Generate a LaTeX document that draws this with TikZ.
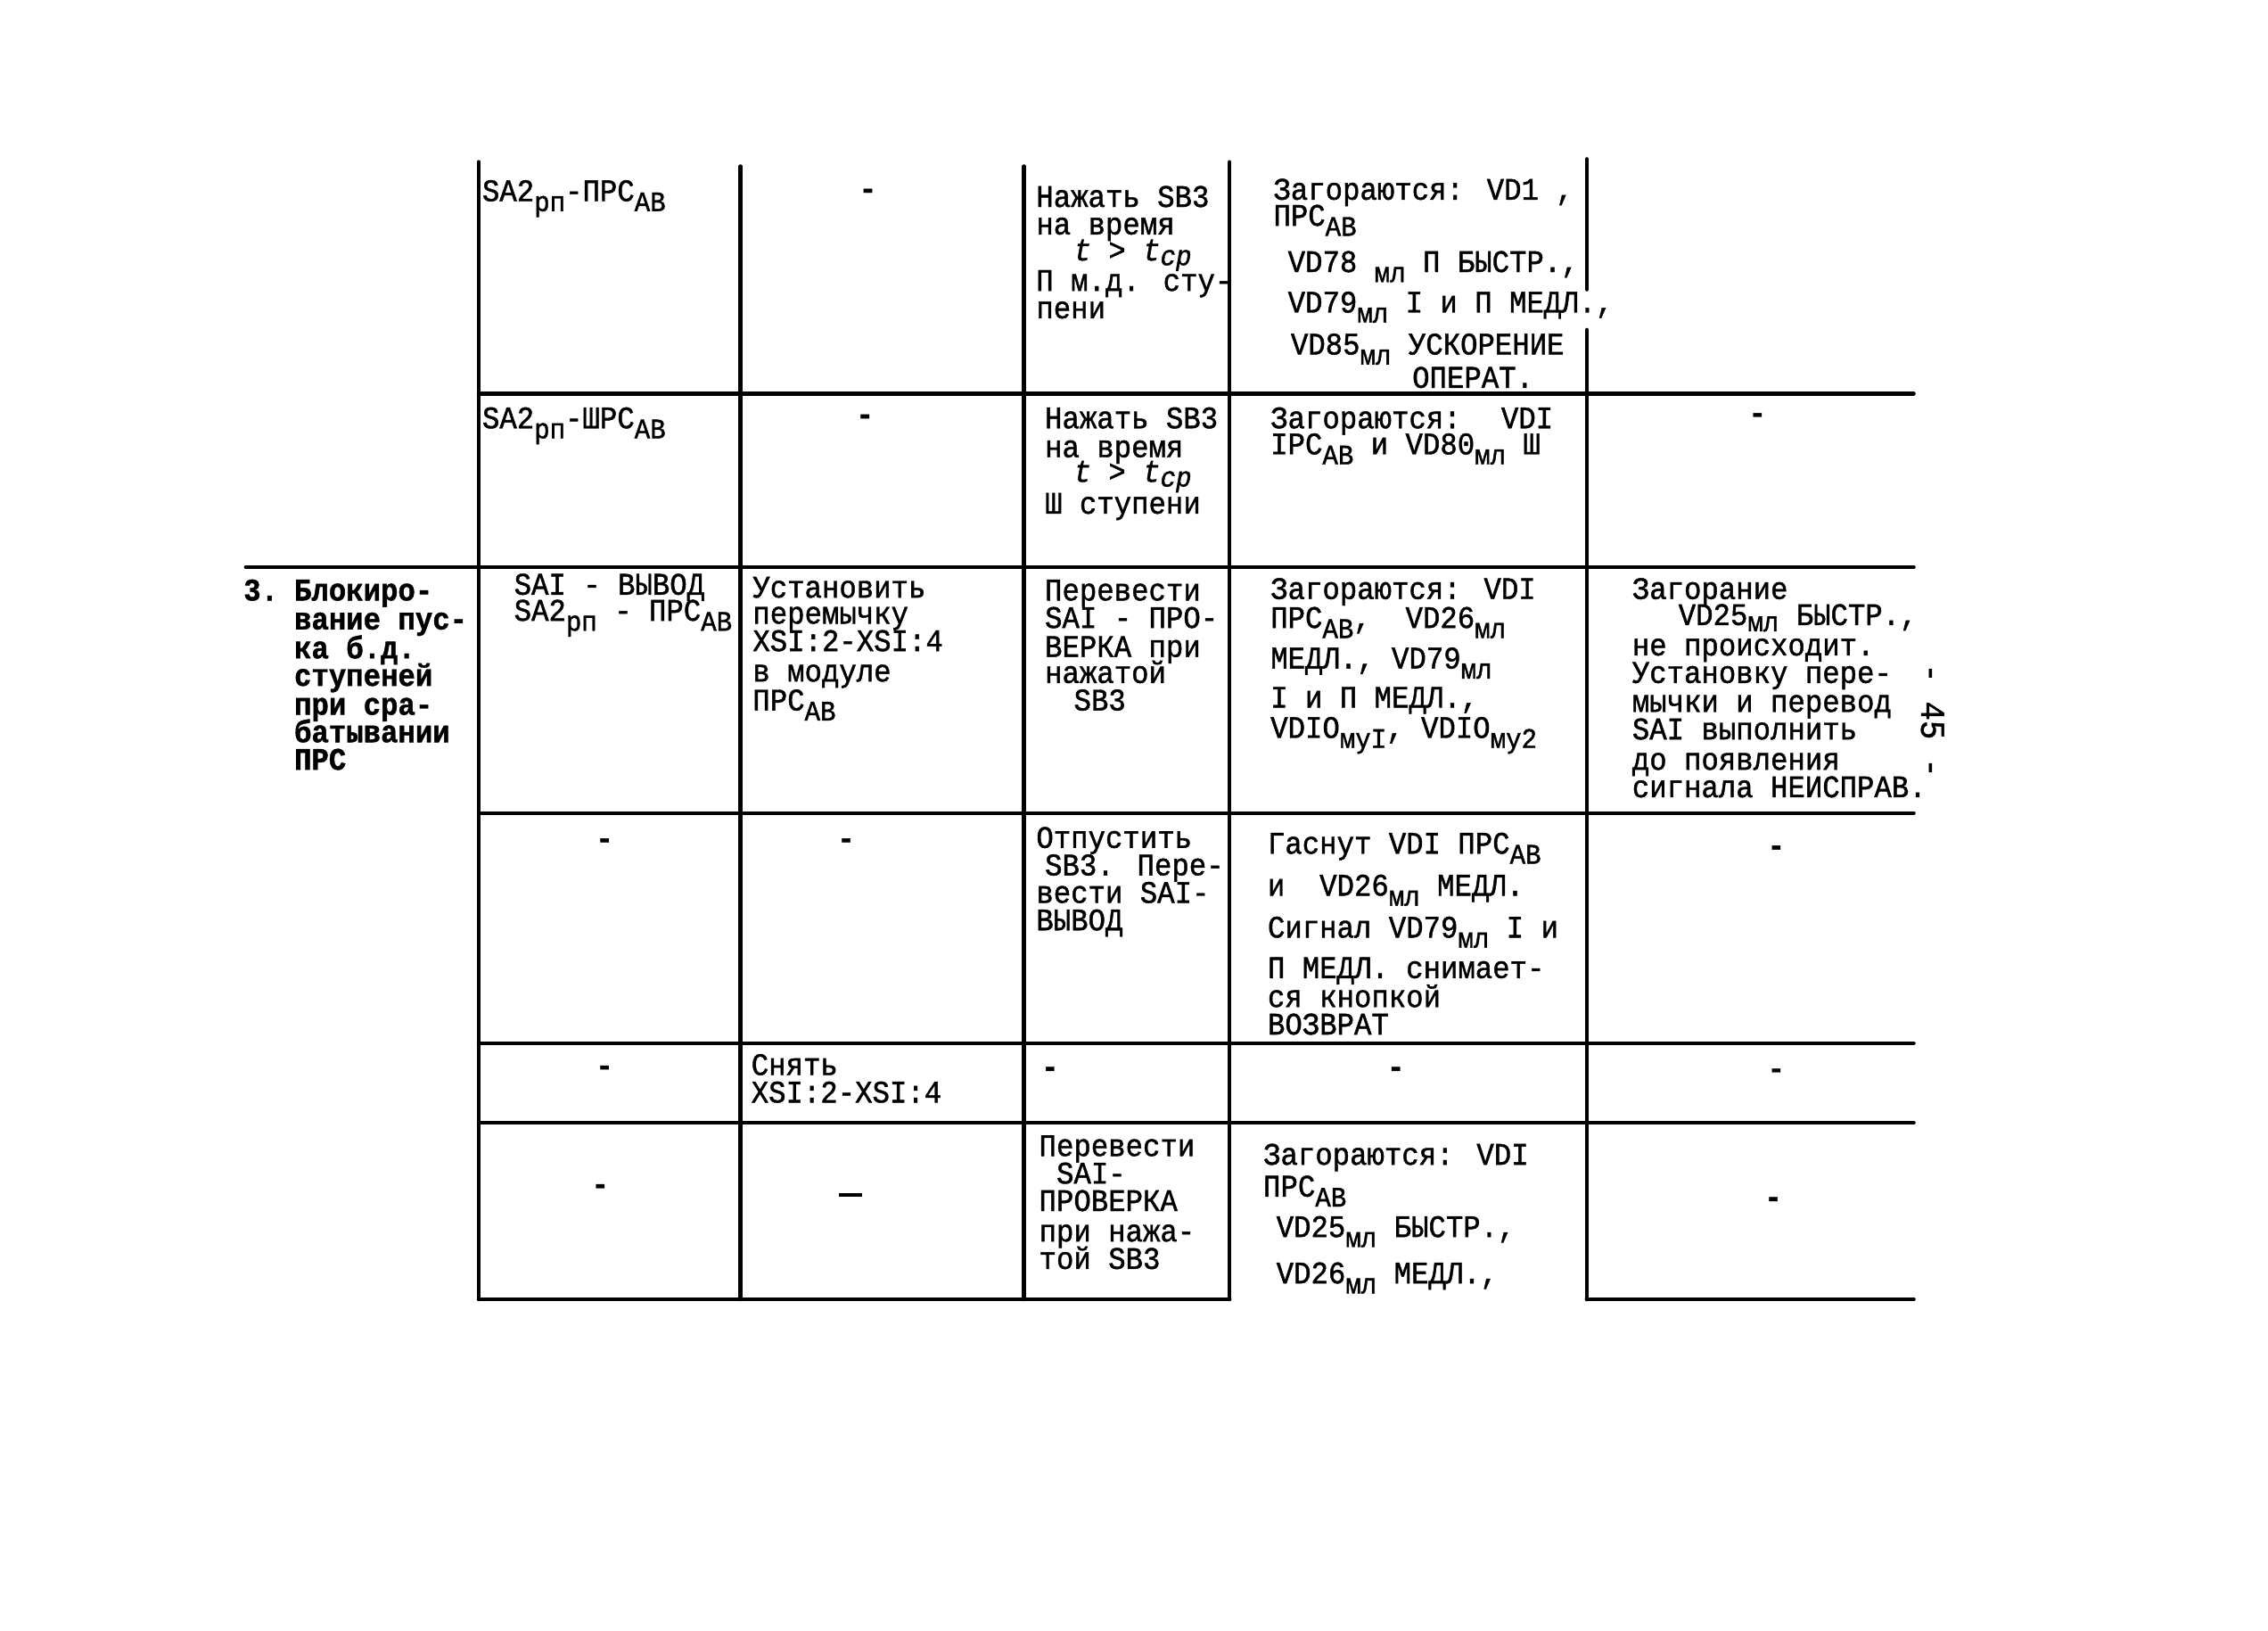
\documentclass[tikz,border=0pt]{standalone}
\usepackage{fontspec}
\newfontfamily\tw{Liberation Mono}[FakeStretch=0.92,FakeBold=1.2]
\newcommand\Sb[2][-3.2pt]{\raisebox{#1}{\fontsize{9}{9}\selectfont #2}}
\newcommand\Tl[4]{\node[tl] (#1) at (#2,#3) {#4};}
\newcommand\Tb[4]{\node[tl,font=\tw\bfseries\fontsize{10}{10}\selectfont] (#1) at (#2,#3) {#4};}
\newcommand\Dh[3]{\node[dsh] (#1) at (#2,#3) {-};}
\tikzset{
  tl/.style={anchor=base west, inner sep=0pt, font=\tw\fontsize{10}{10}\selectfont},
  dsh/.style={anchor=center, inner sep=0pt, font=\tw\bfseries\fontsize{10}{10}\selectfont},
  grid/.style={line width=1.3pt, line cap=round}
}
\begin{document}
\begin{tikzpicture}[x=0.16224mm, y=-0.16224mm]
\fill[white] (0,0) rectangle (1568,1127);
\path[use as bounding box] (0,0) rectangle (1568,1127);
% grid
\draw[grid] (331,112) -- (331,898);
\draw[grid] (512,115) -- (512,898);
\draw[grid] (708,115) -- (708,898);
\draw[grid] (850,112) -- (850,898);
\draw[grid] (1097,110) -- (1097,200);
\draw[grid] (1097,228) -- (1097,898);
\draw[grid] (331,272) -- (1323,272);
\draw[grid] (170,392) -- (1323,392);
\draw[grid] (331,562) -- (1323,562);
\draw[grid] (331,721) -- (1323,721);
\draw[grid] (331,776) -- (1323,776);
\draw[grid] (331,898) -- (850,898);
\draw[grid] (1097,898) -- (1323,898);
% row 1
\Tl{aA}{333}{139}{SA2\Sb{рп}-ПРС\Sb{AB}}
\Dh{aB}{600}{134}
\Tl{aC1}{716}{143}{Нажать SB3}
\Tl{aC2}{716}{162}{на время}
\Tl{aC3}{742}{180}{\itshape t > t\Sb[-1.5pt]{ср}}
\Tl{aC4}{716}{201}{П м.д. сту-}
\Tl{aC5}{716}{220}{пени}
\Tl{aD1}{880}{138}{Загораются: VD1 ,}
\Tl{aD2}{880}{156}{ПРС\Sb{AB}}
\Tl{aD3}{890}{188}{VD78 \Sb{мл} П БЫСТР.,}
\Tl{aD4}{890}{216}{VD79\Sb{мл} I и П МЕДЛ.,}
\Tl{aD5}{892}{245}{VD85\Sb{мл} УСКОРЕНИЕ}
\Tl{aD6}{976}{268}{ОПЕРАТ.}
% row 2
\Tl{bA}{333}{296}{SA2\Sb{рп}-ШРС\Sb{AB}}
\Dh{bB}{598}{290}
\Tl{bC1}{722}{296}{Нажать SB3}
\Tl{bC2}{722}{316}{на время}
\Tl{bC3}{742}{333}{\itshape t > t\Sb[-1.5pt]{ср}}
\Tl{bC4}{722}{355}{Ш ступени}
\Tl{bD1}{878}{296}{Загораются:~ VDI}
\Tl{bD2}{878}{314}{IРС\Sb{AB} и VD80\Sb{мл} Ш}
\Dh{bE}{1215}{289}
% row 3
\Tb{c0}{168}{415}{3.}
\Tb{cA1}{203}{415}{Блокиро-}
\Tb{cA2}{203}{435}{вание пус-}
\Tb{cA3}{203}{455}{ка б.д.}
\Tb{cA4}{203}{474}{ступеней}
\Tb{cA5}{203}{494}{при сра-}
\Tb{cA6}{203}{513}{батывании}
\Tb{cA7}{203}{532}{ПРС}
\Tl{cB1}{355}{411}{SAI - ВЫВОД}
\Tl{cB2}{355}{429}{SA2\Sb{рп} - ПРС\Sb{AB}}
\Tl{cC1}{520}{413}{Установить}
\Tl{cC2}{520}{431}{перемычку}
\Tl{cC3}{520}{450}{XSI:2-XSI:4}
\Tl{cC4}{520}{471}{в модуле}
\Tl{cC5}{520}{491}{ПРС\Sb{AB}}
\Tl{cD1}{722}{415}{Перевести}
\Tl{cD2}{722}{434}{SAI - ПРО-}
\Tl{cD3}{722}{454}{ВЕРКА при}
\Tl{cD4}{722}{472}{нажатой}
\Tl{cD5}{742}{491}{SB3}
\Tl{cE1}{878}{414}{Загораются: VDI}
\Tl{cE2}{878}{434}{ПРС\Sb{AB},~ VD26\Sb{мл}}
\Tl{cE3}{878}{462}{МЕДЛ., VD79\Sb{мл}}
\Tl{cE4}{878}{489}{I и П МЕДЛ.,}
\Tl{cE5}{878}{510}{VDIO\Sb{муI}, VDIO\Sb{му2}}
\Tl{cF1}{1128}{414}{Загорание}
\Tl{cF2}{1160}{432}{VD25\Sb[-2pt]{мл} БЫСТР.,}
\Tl{cF3}{1128}{453}{не происходит.}
\Tl{cF4}{1128}{472}{Установку пере-}
\Tl{cF5}{1128}{492}{мычки и перевод}
\Tl{cF6}{1128}{511}{SAI выполнить}
\Tl{cF7}{1128}{532}{до появления}
\Tl{cF8}{1128}{551}{сигнала НЕИСПРАВ.}
% row 4
\Dh{dA}{418}{583}
\Dh{dB}{585}{583}
\Tl{dC1}{716}{586}{Отпустить}
\Tl{dC2}{722}{605}{SB3. Пере-}
\Tl{dC3}{716}{624}{вести SAI-}
\Tl{dC4}{716}{643}{ВЫВОД}
\Tl{dD1}{876}{590}{Гаснут VDI ПРС\Sb{AB}}
\Tl{dD2}{876}{619}{и~ VD26\Sb{мл} МЕДЛ.}
\Tl{dD3}{876}{648}{Сигнал VD79\Sb{мл} I и}
\Tl{dD4}{876}{676}{П МЕДЛ. снимает-}
\Tl{dD5}{876}{696}{ся кнопкой}
\Tl{dD6}{876}{715}{ВОЗВРАТ}
\Dh{dE}{1228}{588}
% row 5
\Dh{eA}{418}{740}
\Tl{eB1}{519}{743}{Снять}
\Tl{eB2}{519}{762}{XSI:2-XSI:4}
\Dh{eC}{726}{741}
\Dh{eD}{965}{741}
\Dh{eE}{1228}{742}
% row 6
\Dh{fA}{415}{822}
\node[dsh] (fB) at (588,826) {\rule{7.5pt}{1.1pt}};
\Tl{fC1}{718}{799}{Перевести}
\Tl{fC2}{730}{818}{SAI-}
\Tl{fC3}{718}{837}{ПРОВЕРКА}
\Tl{fC4}{718}{858}{при нажа-}
\Tl{fC5}{718}{877}{той SB3}
\Tl{fD1}{873}{805}{Загораются: VDI}
\Tl{fD2}{873}{827}{ПРС\Sb{AB}}
\Tl{fD3}{882}{855}{VD25\Sb{мл} БЫСТР.,}
\Tl{fD4}{882}{887}{VD26\Sb{мл} МЕДЛ.,}
\Dh{fE}{1226}{831}
% page number
\node[anchor=center, inner sep=0pt, rotate=-90, font=\tw\fontsize{11}{11}\selectfont] (pg) at (1336,498) {-\hspace{6pt}45\hspace{6pt}-};
\end{tikzpicture}
\end{document}
